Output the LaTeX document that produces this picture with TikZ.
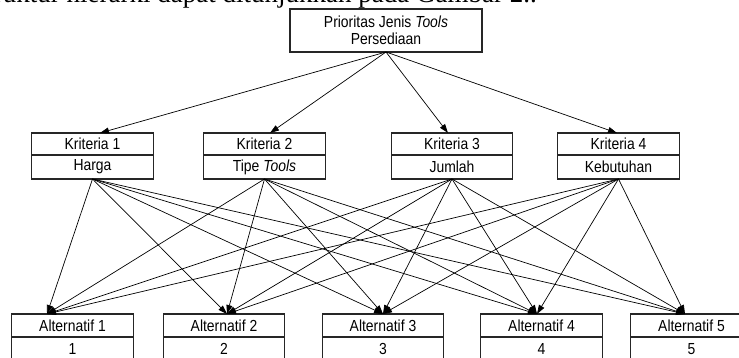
\documentclass[tikz,border=0pt]{standalone}
\usepackage{fontspec}
\setmainfont{Liberation Serif}
\newfontfamily\diagfont[FakeStretch=0.87]{Liberation Sans}
\usetikzlibrary{arrows.meta}
\tikzset{
  cell/.style={draw=black!85, line width=1.2pt, inner sep=0pt, outer sep=0pt,
    minimum width=121.5pt, font=\diagfont\fontsize{16}{17}\selectfont, align=center},
  upper/.style={cell, minimum height=22pt},
  lower/.style={cell, minimum height=24pt},
  link/.style={line width=0.7pt, -{Triangle[length=9pt,width=6pt]}},
}
\begin{document}
\begin{tikzpicture}[x=1pt,y=-1pt]
\useasboundingbox (0,0) rectangle (739,358);
\clip (0,0) rectangle (739,358);
% cut-off running text
\node[anchor=base east, inner sep=0pt, font=\fontsize{27}{30}\selectfont] (txt) at (537,3) {Struktur hierarki dapat ditunjukkan pada Gambar 2..};
% goal
\node[cell, minimum width=192pt, minimum height=43pt] (top) at (386,30.5) {Prioritas Jenis \textit{Tools}\\Persediaan};
% criteria
\node[upper] (k1) at (92.5,144) {Kriteria 1};
\node[lower] (k1b) at (92.5,167) {Harga};
\node[upper] (k2) at (264.5,144) {Kriteria 2};
\node[lower] (k2b) at (264.5,167) {Tipe \textit{Tools}};
\node[upper] (k3) at (452,144) {Kriteria 3};
\node[lower] (k3b) at (452,167) {Jumlah};
\node[upper] (k4) at (618.5,144) {Kriteria 4};
\node[lower] (k4b) at (618.5,167) {Kebutuhan};
% alternatives
\node[upper, minimum height=23pt] (a1) at (72.5,325.5) {Alternatif 1};
\node[lower] (a1b) at (72.5,349) {1};
\node[upper, minimum height=23pt] (a2) at (224,325.5) {Alternatif 2};
\node[lower] (a2b) at (224,349) {2};
\node[upper, minimum height=23pt] (a3) at (383,325.5) {Alternatif 3};
\node[lower] (a3b) at (383,349) {3};
\node[upper, minimum height=23pt] (a4) at (541.5,325.5) {Alternatif 4};
\node[lower] (a4b) at (541.5,349) {4};
\node[upper, minimum height=23pt] (a5) at (691.5,325.5) {Alternatif 5};
\node[lower] (a5b) at (691.5,349) {5};
% entry points
\coordinate (k1in) at (100,133);
\coordinate (k2in) at (270,133);
\coordinate (k3in) at (448,133);
\coordinate (k4in) at (617,133);
\coordinate (a1in) at (47,314);
\coordinate (a2in) at (227,314);
\coordinate (a3in) at (383,314);
\coordinate (a4in) at (537,314);
\coordinate (a5in) at (685,314);
% connectors
\foreach \k in {1,2,3,4} {
  \draw[link] (top.south) -- (k\k in);
}
\foreach \k in {1,2,3,4} {
  \foreach \a in {1,2,3,4,5} {
    \draw[link] (k\k b.south) -- (a\a in);
  }
}
\end{tikzpicture}
\end{document}
